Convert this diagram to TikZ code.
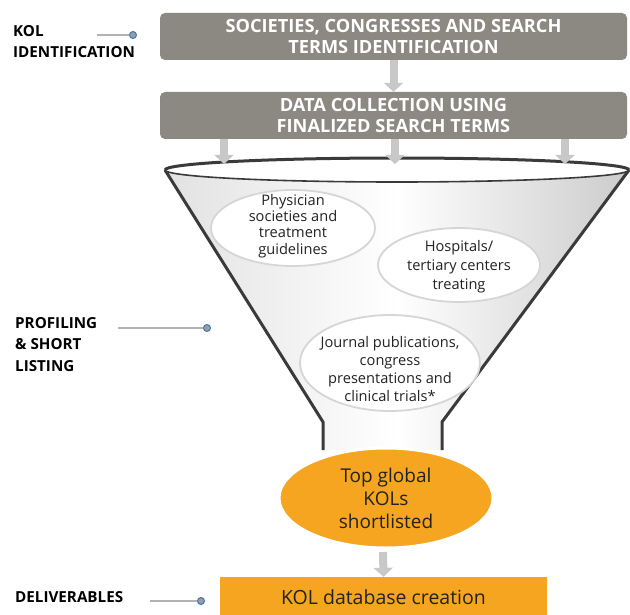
\documentclass[tikz,border=0pt]{standalone}
\usepackage{fontspec}
\setmainfont{Open Sans}
\usetikzlibrary{arrows.meta,shapes.geometric}
\definecolor{boxgray}{HTML}{8C8982}
\definecolor{arrowgray}{HTML}{C8C8C8}
\definecolor{funnelline}{HTML}{3A3A3A}
\definecolor{kolorange}{HTML}{F5A51F}
\definecolor{dotblue}{HTML}{3C7BBF}
\definecolor{dotgray}{HTML}{9B9B9B}
\definecolor{ringgray}{HTML}{D6D6D6}
\definecolor{textdark}{HTML}{222222}
\definecolor{bodyleft}{HTML}{C6C6C6}
\definecolor{bodyright}{HTML}{9C9C9C}
% left-to-right body gradient of the funnel
\pgfdeclarehorizontalshading{funnelbody}{100bp}{
  color(0bp)=(bodyleft); color(2bp)=(bodyleft);
  color(50bp)=(white);
  color(98bp)=(bodyright); color(100bp)=(bodyright)}
\tikzset{
  stagebox/.style={rectangle, rounded corners=5pt, fill=boxgray, text=white,
    minimum width=467pt, minimum height=47pt, align=center, inner sep=0pt,
    font=\bfseries\fontsize{18.2}{21}\selectfont},
  flowarrow/.style={draw=arrowgray, line width=8pt,
    -{Triangle[width=19pt,length=9pt]}, arrowgray},
  sourcering/.style={fill=white, draw=ringgray, line width=1.8pt},
  sourcetext/.style={align=center, inner sep=0pt, text=textdark},
  sidelabel/.style={anchor=north west, align=left, inner sep=0pt,
    font=\bfseries\fontsize{15.2}{21.5}\selectfont},
  leader/.style={draw=gray!60, line width=1.2pt},
  leaderdot/.style={circle, fill=dotgray, draw=dotblue, line width=1pt,
    minimum size=7pt, inner sep=0pt},
  funneledge/.style={draw=funnelline, line width=3pt, line join=miter},
}
\begin{document}
\begin{tikzpicture}[x=1pt,y=-1pt]
\useasboundingbox (0,0) rectangle (630,615);

% stage boxes
\node[stagebox] (b1) at (393.5,36.5) {SOCIETIES, CONGRESSES AND SEARCH\\TERMS IDENTIFICATION};
\node[stagebox] (b2) at (393.5,115.5) {DATA COLLECTION USING\\FINALIZED SEARCH TERMS};
\draw[flowarrow] (b1.south) -- (b2.north);

% funnel body
\path[shading=funnelbody]
  (165,170) -- (323,422) -- (323,450) -- (442,450) -- (442,422) -- (629,170) -- cycle;
\draw[funneledge] (165,170) -- (323,422) -- (323,450);
\draw[funneledge] (629,170) -- (442,422) -- (442,450);

% funnel rim
\fill[white] (397,170) ellipse [x radius=232, y radius=12];
\draw[funnelline, line width=1.6pt] (165,170) arc[start angle=180, end angle=0, x radius=232, y radius=12];
\draw[funnelline, line width=3pt] (165,170) arc[start angle=180, end angle=360, x radius=232, y radius=12];

% feeds into the funnel
\coordinate (f1) at (224,164);
\coordinate (f2) at (395,164);
\coordinate (f3) at (565,164);
\draw[flowarrow] (b2.south -| f1) -- (f1);
\draw[flowarrow] (b2.south -| f2) -- (f2);
\draw[flowarrow] (b2.south -| f3) -- (f3);

% data sources inside the funnel
\draw[sourcering] (293,228) ellipse [x radius=82, y radius=38];
\node[sourcetext, font=\fontsize{14.6}{16.4}\selectfont] (s1) at (293,226)
  {Physician\\societies and\\treatment\\guidelines};
\draw[sourcering] (459,265) ellipse [x radius=81, y radius=37];
\node[sourcetext, font=\fontsize{14.6}{19.2}\selectfont] (s2) at (459,267)
  {Hospitals/\\tertiary centers\\treating};
\draw[sourcering] (390,363) ellipse [x radius=90, y radius=48];
\node[sourcetext, font=\fontsize{14.6}{18.3}\selectfont] (s3) at (390,369)
  {Journal publications,\\congress\\presentations and\\clinical trials*};

% output of the funnel
\node[ellipse, fill=kolorange, draw=white, line width=3pt, minimum width=214pt,
  minimum height=100pt, align=center, inner sep=0pt, text=textdark,
  font=\fontsize{19}{23}\selectfont] (top) at (386,498)
  {Top global\\KOLs\\shortlisted};

\node[rectangle, fill=kolorange, minimum width=327pt, minimum height=40pt,
  inner sep=0pt, text=textdark, font=\fontsize{19.5}{23}\selectfont]
  (db) at (383.5,597) {KOL database creation};
\coordinate (topout) at (383,552);
\draw[flowarrow] (topout) -- (db.north);

% phase labels
\node[sidelabel] (l1) at (13,25) {KOL\\IDENTIFICATION};
\node[leaderdot] (d1) at (133,35) {};
\coordinate (c1) at (97,35);
\draw[leader] (c1) -- (d1);

\node[sidelabel] (l2) at (15,317) {PROFILING\\\& SHORT\\LISTING};
\node[leaderdot] (d2) at (207,328) {};
\coordinate (c2) at (118,328);
\draw[leader] (c2) -- (d2);

\node[sidelabel] (l3) at (15,591) {DELIVERABLES};
\node[leaderdot] (d3) at (201,601) {};
\coordinate (c3) at (150,601);
\draw[leader] (c3) -- (d3);
\end{tikzpicture}
\end{document}
